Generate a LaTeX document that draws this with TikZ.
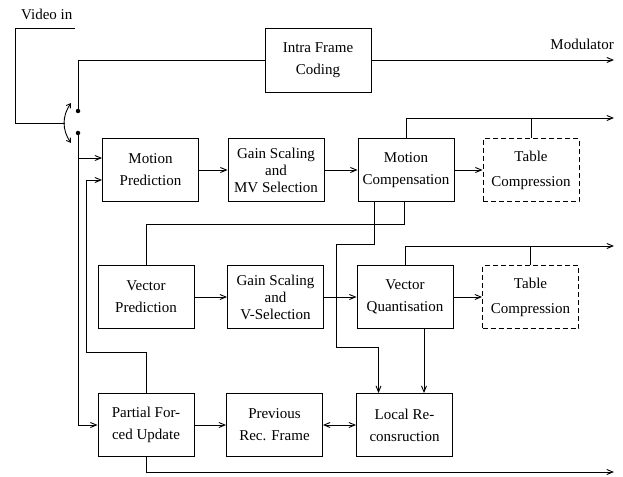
\documentclass[tikz,border=0pt]{standalone}
\usepackage{fontspec}
\setmainfont{Liberation Serif}
\usetikzlibrary{arrows.meta,calc}
\begin{document}
\begin{tikzpicture}[x=1pt,y=-1pt,
  blk/.style={draw,line width=0.9pt,minimum width=96pt,minimum height=63pt,inner sep=0pt,align=center,font=\fontsize{15}{22}\selectfont},
  three/.style={font=\fontsize{15}{17}\selectfont},
  dblk/.style={blk,dash pattern=on 5pt off 3pt,font=\fontsize{15}{25}\selectfont},
  wire/.style={line width=0.9pt},
  arr/.style={wire,-{Straight Barb[length=6pt,width=5pt]}},
  dbl/.style={wire,{Straight Barb[length=6pt,width=5pt]}-{Straight Barb[length=6pt,width=5pt]}},
  lbl/.style={font=\fontsize{15}{18}\selectfont,inner sep=0pt},
  dot/.style={circle,fill,inner sep=0pt,minimum size=4.5pt}]
\useasboundingbox (0,0) rectangle (623,476);

% blocks
\node[blk,minimum width=106pt,minimum height=64pt] (intra) at (318,60) {Intra Frame\\Coding};
\node[blk] (mp) at (150.5,170) {Motion\\Prediction};
\node[blk,three] (gsmv) at (276,170) {Gain Scaling\\and\\MV Selection};
\node[blk] (mc) at (406,170) {Motion\\Compensation};
\node[dblk] (tc1) at (531,170) {Table\\Compression};
\node[blk] (vp) at (146,297) {Vector\\Prediction};
\node[blk,three] (gsv) at (275.5,297) {Gain Scaling\\and\\V-Selection};
\node[blk] (vq) at (405,297) {Vector\\Quantisation};
\node[dblk] (tc2) at (530.5,297) {Table\\Compression};
\node[blk] (pfu) at (146,425) {Partial For-\\ced Update};
\node[blk] (prf) at (274.5,425) {Previous\\Rec. Frame};
\node[blk] (lr) at (404.5,425) {Local Re-\\consruction};

% labels
\node[lbl,anchor=base west] (vinlbl) at (21,20) {Video in};
\node[lbl,anchor=base east] (modlbl) at (614,50) {Modulator};

% input and switch
\coordinate (vin) at (75,28);
\coordinate (vtl) at (15,28);
\coordinate (vbl) at (15,123);
\coordinate (sw) at (65,123);
\draw[wire] (vin) -- (vtl) -- (vbl) -- (sw);
\draw[wire,{Straight Barb[length=4pt,width=5pt]}-{Straight Barb[length=4pt,width=5pt]}] (71,103) .. controls (62,116) and (62,130) .. (71,143);
\node[dot] (d1) at (78,111) {};
\node[dot] (d2) at (78,133) {};

% output x
\coordinate (outx) at (614,0);
\coordinate (o2) at (614,118);
\coordinate (o3) at (614,246);
\coordinate (o4) at (614,472);

% intra path
\draw[wire] (d1) |- (intra.west);
\draw[arr] (intra.east) -- (intra.east -| outx);

% switch lower output
\draw[arr] (d2) |- (pfu.west);
\draw[arr] ([yshift=12pt]mp.west -| d2) -- ([yshift=12pt]mp.west);
\coordinate (fb) at (86,352);
\draw[arr] (pfu.north) |- (fb) |- ([yshift=-10pt]mp.west);

% row 1
\draw[arr] (mp.east) -- (gsmv.west);
\draw[arr] (gsmv.east) -- (mc.west);
\draw[arr] (mc.east) -- (tc1.west);
\draw[arr] (mc.north) |- (o2);
\draw[wire] (tc1.north) -- (tc1.north |- o2);

% MC feedback paths
\coordinate (b1) at (0,224);
\draw[wire] ([xshift=-2pt]mc.south) |- (vp.north |- b1) -- (vp.north);
\coordinate (b2) at (336,244);
\coordinate (b3) at (336,347);
\draw[arr] ([xshift=-32pt]mc.south) |- (b2) -- (b3) -| ([xshift=-26pt]lr.north);

% row 2
\draw[arr] (vp.east) -- (gsv.west);
\draw[arr] (gsv.east) -- (vq.west);
\draw[arr] (vq.east) -- (tc2.west);
\draw[arr] (vq.north) |- (o3);
\draw[wire] (tc2.north) -- (tc2.north |- o3);
\draw[arr] ([xshift=19pt]vq.south) -- ([xshift=19pt]vq.south |- lr.north);

% row 3
\draw[arr] (pfu.east) -- (prf.west);
\draw[dbl] (prf.east) -- (lr.west);
\draw[arr] (pfu.south) |- (o4);
\end{tikzpicture}
\end{document}
